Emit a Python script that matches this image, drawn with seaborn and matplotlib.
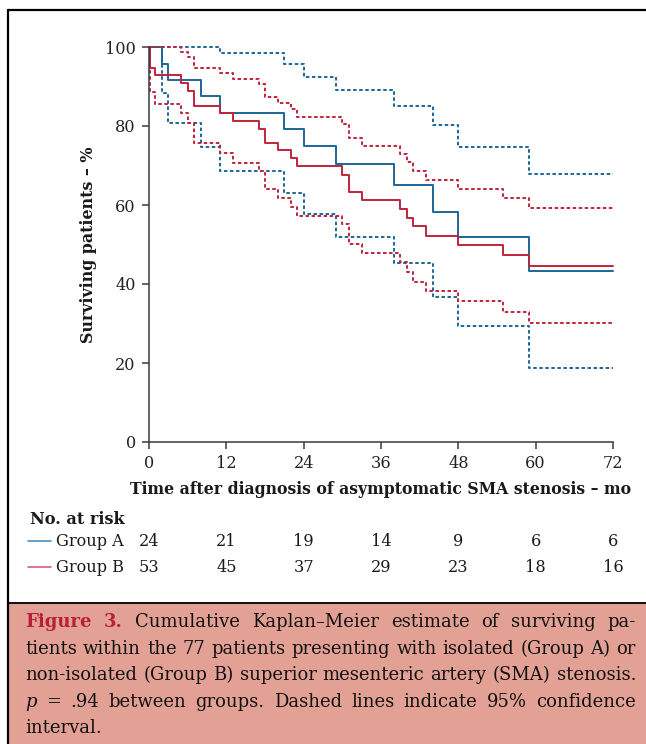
import matplotlib
matplotlib.use('Agg')
import matplotlib.pyplot as plt
import matplotlib.transforms as mtransforms
from matplotlib.lines import Line2D
from matplotlib.patches import Rectangle
import pandas as pd
import seaborn as sns

# Kaplan-Meier steps (time in months, survival in %)
time_a = [0, 2, 3, 8, 11, 21, 24, 29, 38, 44, 48, 59, 72]
surv_a = [100, 95.8, 91.7, 87.5, 83.3, 79.2, 75.0, 70.4, 65.1, 58.3, 52.0, 43.4, 43.4]
low_a = [100, 88.3, 80.8, 74.6, 68.6, 63.1, 57.7, 51.8, 45.2, 36.8, 29.4, 18.8, 18.8]
up_a = [100, 100, 100, 100, 98.6, 95.6, 92.5, 89.1, 85.1, 80.3, 74.8, 67.8, 67.8]

time_b = [0, 0.1, 0.9, 5, 6, 7, 11, 13, 17, 18, 20, 22, 23, 30, 31, 33, 39, 40, 41, 43, 48, 55, 59, 72]
surv_b = [100, 94.6, 92.9, 90.8, 88.9, 85.1, 83.4, 81.3, 79.3, 75.6, 73.9, 71.8, 69.9, 67.6,
          63.4, 61.3, 59.0, 56.8, 54.7, 52.2, 50.0, 47.3, 44.6, 44.6]
low_b = [100, 88.7, 85.6, 83.2, 80.7, 75.6, 73.1, 70.7, 68.6, 64.1, 61.8, 59.6, 57.3, 55.2,
         50.1, 47.9, 45.6, 43.1, 40.6, 38.3, 35.8, 33.0, 30.2, 30.2]
up_b = [100, 100, 100, 98.8, 97.5, 94.8, 93.5, 91.9, 90.6, 87.4, 85.9, 84.2, 82.2, 80.5,
        76.9, 74.9, 72.8, 70.8, 68.6, 66.3, 64.1, 61.8, 59.3, 59.3]

risk_times = [0, 12, 24, 36, 48, 60, 72]
risk_a = [24, 21, 19, 14, 9, 6, 6]
risk_b = [53, 45, 37, 29, 23, 18, 16]

blue = '#1d6696'
red = '#c0243c'

rows = []
for grp, t, curves in [('Group A', time_a, {'est': surv_a, 'lo': low_a, 'hi': up_a}),
                       ('Group B', time_b, {'est': surv_b, 'lo': low_b, 'hi': up_b})]:
    for kind, vals in curves.items():
        for ti, vi in zip(t, vals):
            rows.append({'group': grp, 'curve': kind, 'time': ti, 'surv': vi})
df = pd.DataFrame(rows)

sns.set_theme(style='ticks')
plt.rcParams['font.family'] = ['DejaVu Serif']

W, H = 646, 744
fs = 11.6
fig = plt.figure(figsize=(W / 100, H / 100), dpi=100)
ax = fig.add_axes([149 / W, 1 - 442 / H, 464 / W, 395 / H])

sns.lineplot(data=df, x='time', y='surv', hue='group', style='curve',
             palette={'Group A': blue, 'Group B': red},
             dashes={'est': '', 'lo': (1.8, 1.3), 'hi': (1.8, 1.3)},
             drawstyle='steps-post', estimator=None, linewidth=1.4,
             legend=False, ax=ax)
for ln in ax.lines:
    ln.set_clip_on(False)

ax.set_xlim(0, 72)
ax.set_ylim(0, 100)
ax.set_xticks(risk_times)
ax.set_yticks([0, 20, 40, 60, 80, 100])
sns.despine(ax=ax)
for s in ['left', 'bottom']:
    ax.spines[s].set_color('#3a3a3a')
    ax.spines[s].set_linewidth(1.1)
ax.tick_params(direction='out', length=5, width=1.1, color='#3a3a3a',
               labelsize=fs, labelcolor='#222222', pad=4.5)

ax.set_xlabel('Time after diagnosis of asymptomatic SMA stenosis – mo',
              fontsize=11.3, fontweight='bold', color='#1a1a1a')
ax.set_ylabel('Surviving patients – %', fontsize=11.4, fontweight='bold', color='#1a1a1a')
ax.xaxis.set_label_coords(0.5, -0.1)
ax.yaxis.set_label_coords(-0.112, 0.5)

# number at risk table
tr = mtransforms.blended_transform_factory(ax.transData, fig.transFigure)
fig.text(30 / W, 1 - 519 / H, 'No. at risk', fontsize=fs, fontweight='bold',
         va='center', ha='left', color='#1a1a1a')
for yy, lab, col, vals in [(541, 'Group A', '#4a90bf', risk_a), (567, 'Group B', '#d8607a', risk_b)]:
    fy = 1 - yy / H
    fig.add_artist(Line2D([28 / W, 51 / W], [fy, fy], color=col, lw=1.2))
    fig.text(56 / W, fy, lab, fontsize=fs, va='center', ha='left', color='#1a1a1a')
    for tx, n in zip(risk_times, vals):
        fig.text(tx, fy, str(n), fontsize=fs, va='center', ha='center',
                 color='#1a1a1a', transform=tr)

# outer frame and caption box
fig.add_artist(Rectangle((8 / W, 0), 1 - 8 / W, 1 - 603 / H, transform=fig.transFigure,
                         facecolor='#e3a094', edgecolor='none'))
fig.add_artist(Line2D([8 / W, 1], [1 - 603 / H, 1 - 603 / H], color='black', lw=1.3))
fig.add_artist(Line2D([8 / W, 8 / W], [0, 1 - 10 / H], color='black', lw=1.6))
fig.add_artist(Line2D([8 / W, 1], [1 - 10 / H, 1 - 10 / H], color='black', lw=1.6))

# justified caption
cap_fs = 13.0
crim = {'color': '#b8203a', 'fontweight': 'bold'}
plain = {'color': '#111111'}
ital = {'color': '#111111', 'style': 'italic'}
cap_lines = [
    [('Figure', crim), ('3.', crim)] + [(w, plain) for w in 'Cumulative Kaplan–Meier estimate of surviving pa-'.split()],
    [(w, plain) for w in 'tients within the 77 patients presenting with isolated (Group A) or'.split()],
    [(w, plain) for w in 'non-isolated (Group B) superior mesenteric artery (SMA) stenosis.'.split()],
    [('p', ital)] + [(w, plain) for w in '= .94 between groups. Dashed lines indicate 95% confidence'.split()],
    [('interval.', plain)],
]
cap_base = [627, 654, 680, 707, 733]
x0, x1 = 25, 636
renderer = fig.canvas.get_renderer()
sp = fig.text(0, 0, 'a a', fontsize=cap_fs)
sp2 = fig.text(0, 0, 'aa', fontsize=cap_fs)
space_w = sp.get_window_extent(renderer).width - sp2.get_window_extent(renderer).width
sp.remove()
sp2.remove()
for i, (words, yb) in enumerate(zip(cap_lines, cap_base)):
    texts, widths = [], []
    for w, props in words:
        t = fig.text(0, 1 - yb / H, w, fontsize=cap_fs, va='baseline', ha='left', **props)
        texts.append(t)
        widths.append(t.get_window_extent(renderer).width)
    if i < len(cap_lines) - 1 and len(words) > 1:
        gap = max((x1 - x0 - sum(widths)) / (len(words) - 1), space_w * 0.6)
    else:
        gap = space_w
    x = x0
    for t, w in zip(texts, widths):
        t.set_x(x / W)
        x += w + gap

fig.savefig('out.png', dpi=100)
